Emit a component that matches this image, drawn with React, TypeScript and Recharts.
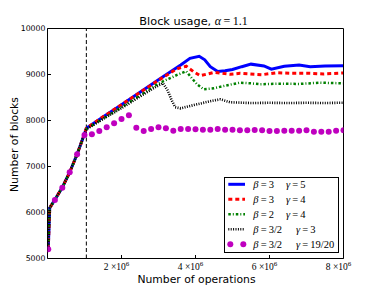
import React from 'react';
import { LineChart, Line, XAxis, YAxis, ReferenceLine, Legend } from 'recharts';

// x values are in millions of operations
const startX = [0.02, 0.06, 0.2, 0.4, 0.6, 0.8, 0.95, 1.05];
const startY = [5200, 6100, 6280, 6545, 6875, 7265, 7600, 7830];

const blueX = [...startX, 1.5, 2.0, 2.5, 3.0, 3.6, 3.85, 4.1, 4.25, 4.4, 4.6, 4.8, 5.0, 5.25, 5.5, 5.85, 6.05, 6.4, 6.8, 7.1, 7.5, 8.0];
const blueY = [...startY, 8075, 8345, 8615, 8885, 9207, 9350, 9395, 9320, 9170, 9065, 9080, 9110, 9170, 9225, 9185, 9115, 9180, 9205, 9170, 9185, 9190];

const redX = [...startX, 1.5, 2.0, 2.5, 3.0, 3.5, 3.75, 3.95, 4.13, 4.5, 4.95, 5.2, 5.8, 6.2, 6.6, 7.1, 7.46, 8.0];
const redY = [...startY, 8080, 8345, 8610, 8875, 9125, 9180, 9060, 8975, 9045, 9005, 9026, 8996, 9039, 9026, 9026, 9011, 9033];

const greenX = [...startX.slice(0, 7), 1.05, 1.5, 2.0, 2.5, 3.0, 3.5, 3.75, 3.9, 4.05, 4.22, 4.5, 4.76, 5.2, 5.5, 5.75, 6.2, 6.8, 7.37, 8.0];
const greenY = [...startY.slice(0, 7), 7815, 8040, 8290, 8545, 8805, 8990, 9070, 8920, 8780, 8680, 8700, 8750, 8822, 8808, 8787, 8800, 8795, 8822, 8808];

const blackX = [...startX.slice(0, 7), 1.05, 1.5, 2.0, 2.5, 2.9, 3.12, 3.25, 3.35, 3.45, 3.6, 4.0, 4.46, 4.67, 4.94, 5.5, 6.0, 6.5, 7.0, 7.5, 8.0];
const blackY = [...startY.slice(0, 7), 7810, 8030, 8270, 8520, 8720, 8810, 8650, 8450, 8290, 8265, 8345, 8430, 8461, 8396, 8380, 8385, 8380, 8385, 8380, 8387];

const magentaX = [0.02, 0.2, 0.4, 0.6, 0.8, 1.0, 1.2, 1.4, 1.6, 1.8, 2.0, 2.2, 2.4, 2.6, 2.8, 3.0, 3.2, 3.4, 3.6, 3.8, 4.0, 4.2, 4.4, 4.6, 4.8, 5.0, 5.2, 5.4, 5.6, 5.8, 6.0, 6.2, 6.4, 6.6, 6.8, 7.0, 7.2, 7.4, 7.6, 7.8, 8.0];
const magentaY = [5200, 6272, 6539, 6874, 7265, 7685, 7700, 7772, 7852, 7939, 8033, 8113, 7843, 7772, 7815, 7852, 7830, 7779, 7815, 7815, 7808, 7801, 7801, 7815, 7801, 7801, 7786, 7786, 7793, 7786, 7772, 7772, 7779, 7779, 7779, 7786, 7757, 7757, 7757, 7779, 7786];

const xTicks = [2, 4, 6, 8];
const yTicks = [5000, 6000, 7000, 8000, 9000, 10000];
const phaseBoundary = 1.05;

const legendBeta = ['3', '3', '2', '3/2', '3/2'];
const legendGamma = ['5', '4', '4', '3', '19/20'];

const rows = (xs: number[], ys: number[]) => xs.map((x, i) => ({ x, y: ys[i] }));

const SERIES = [
  { key: 'blue', data: rows(blueX, blueY), color: '#0000ff', width: 3, dash: undefined as string | undefined, dots: false },
  { key: 'red', data: rows(redX, redY), color: '#ff0000', width: 3, dash: '4 3', dots: false },
  { key: 'green', data: rows(greenX, greenY), color: '#008000', width: 2.5, dash: '2.5 2 1 2', dots: false },
  { key: 'black', data: rows(blackX, blackY), color: '#000000', width: 2.6, dash: '1 1.4', dots: false },
  { key: 'magenta', data: rows(magentaX, magentaY), color: '#bf00bf', width: 0, dash: undefined, dots: true },
];

const FONT_SANS = 'DejaVu Sans';
const FONT_SERIF = 'Liberation Serif';
const TS = '\u2009';

const BottomTick = (props: any) => {
  const { x, y, payload } = props;
  return (
    <g>
      <line x1={x} x2={x} y1={y} y2={y - 3.5} stroke="#000" strokeWidth={1} />
      <text x={x - 5} y={y + 11} textAnchor="middle" fontFamily={FONT_SERIF} fontSize={9.5} fill="#000">
        {`${payload.value} ×10`}
        <tspan dy={-4} fontSize={7}>6</tspan>
      </text>
    </g>
  );
};

const TopTick = (props: any) => {
  const { x, y } = props;
  return <line x1={x} x2={x} y1={y} y2={y + 3.5} stroke="#000" strokeWidth={1} />;
};

const LeftTick = (props: any) => {
  const { x, y, payload } = props;
  return (
    <g>
      <line x1={x} x2={x + 3.5} y1={y} y2={y} stroke="#000" strokeWidth={1} />
      <text x={x - 2} y={y + 2.8} textAnchor="end" fontFamily={FONT_SANS} fontSize={7.8} fill="#000">
        {payload.value}
      </text>
    </g>
  );
};

const RightTick = (props: any) => {
  const { x, y } = props;
  return <line x1={x} x2={x - 3.5} y1={y} y2={y} stroke="#000" strokeWidth={1} />;
};

const LegendBox = () => (
  <div style={{ width: 115, height: 76, border: '1px solid #000', background: '#fff', boxSizing: 'border-box' }}>
    <svg width={113} height={74} style={{ display: 'block' }}>
      {SERIES.map((s, i) => {
        const cy = 6.3 + 15 * i;
        return (
          <g key={s.key}>
            {s.dots ? (
              <>
                <circle cx={5.3} cy={cy} r={3} fill={s.color} />
                <circle cx={18.3} cy={cy} r={3} fill={s.color} />
              </>
            ) : (
              <line x1={3.3} x2={20} y1={cy} y2={cy} stroke={s.color} strokeWidth={s.width} strokeDasharray={s.dash} />
            )}
            <text x={28.3} y={cy + 3.5} fontFamily={FONT_SERIF} fontSize={10.5} fill="#000">
              <tspan fontStyle="italic">β</tspan>
              {`${TS}=${TS}${legendBeta[i]}`}
            </text>
            <text x={legendBeta[i].length > 1 ? 71 : 61} y={cy + 3.5} fontFamily={FONT_SERIF} fontSize={10.5} fill="#000">
              <tspan fontStyle="italic">γ</tspan>
              {`${TS}=${TS}${legendGamma[i]}`}
            </text>
          </g>
        );
      })}
    </svg>
  </div>
);

export default function App() {
  return (
    <div style={{ position: 'absolute', left: 0, top: 0, width: 382, height: 287, background: '#fff' }}>
      <LineChart width={382} height={287} margin={{ top: 27.5, right: 37.5, bottom: 27.5, left: 46.5 }}>
        <XAxis
          dataKey="x"
          type="number"
          domain={[0, 8]}
          ticks={xTicks}
          allowDataOverflow
          height={1}
          tickSize={0}
          tickMargin={0}
          tick={<BottomTick />}
          axisLine={{ stroke: '#000', strokeWidth: 1 }}
          tickLine={false}
        />
        <XAxis
          xAxisId="top"
          orientation="top"
          dataKey="x"
          type="number"
          domain={[0, 8]}
          ticks={xTicks}
          height={1}
          tickSize={0}
          tickMargin={0}
          tick={<TopTick />}
          axisLine={{ stroke: '#000', strokeWidth: 1 }}
          tickLine={false}
        />
        <YAxis
          type="number"
          domain={[5000, 10000]}
          ticks={yTicks}
          allowDataOverflow
          width={1}
          tickSize={0}
          tickMargin={0}
          tick={<LeftTick />}
          axisLine={{ stroke: '#000', strokeWidth: 1 }}
          tickLine={false}
        />
        <YAxis
          yAxisId="right"
          orientation="right"
          type="number"
          domain={[5000, 10000]}
          ticks={yTicks}
          width={1}
          tickSize={0}
          tickMargin={0}
          tick={<RightTick />}
          axisLine={{ stroke: '#000', strokeWidth: 1 }}
          tickLine={false}
        />
        <ReferenceLine x={phaseBoundary} stroke="#000" strokeWidth={1} strokeDasharray="4 2.5" />
        {SERIES.map((s) => (
          <Line
            key={s.key}
            data={s.data}
            dataKey="y"
            type="linear"
            stroke={s.dots ? 'none' : s.color}
            strokeWidth={s.width}
            strokeDasharray={s.dash}
            dot={s.dots ? { r: 3, fill: s.color, stroke: 'none' } : false}
            activeDot={false}
            isAnimationActive={false}
          />
        ))}
        <Legend
          layout="horizontal"
          verticalAlign="middle"
          align="center"
          content={() => <LegendBox />}
          wrapperStyle={{ position: 'absolute', left: 224, top: 177, width: 115, height: 76 }}
        />
        <text x={193.5} y={25} textAnchor="middle" fontFamily={FONT_SANS} fontSize={11.3} fill="#000">
          {'Block usage, '}
          <tspan fontFamily={FONT_SERIF} fontStyle="italic" fontSize={12}>α</tspan>
          <tspan fontFamily={FONT_SERIF} fontSize={12}>{`${TS}=${TS}1.1`}</tspan>
        </text>
        <text x={196.5} y={282.5} textAnchor="middle" fontFamily={FONT_SANS} fontSize={10.8} fill="#000">
          Number of operations
        </text>
        <text
          x={17.5}
          y={144.5}
          textAnchor="middle"
          fontFamily={FONT_SANS}
          fontSize={10.8}
          fill="#000"
          transform="rotate(-90 17.5 144.5)"
        >
          Number of blocks
        </text>
      </LineChart>
    </div>
  );
}
